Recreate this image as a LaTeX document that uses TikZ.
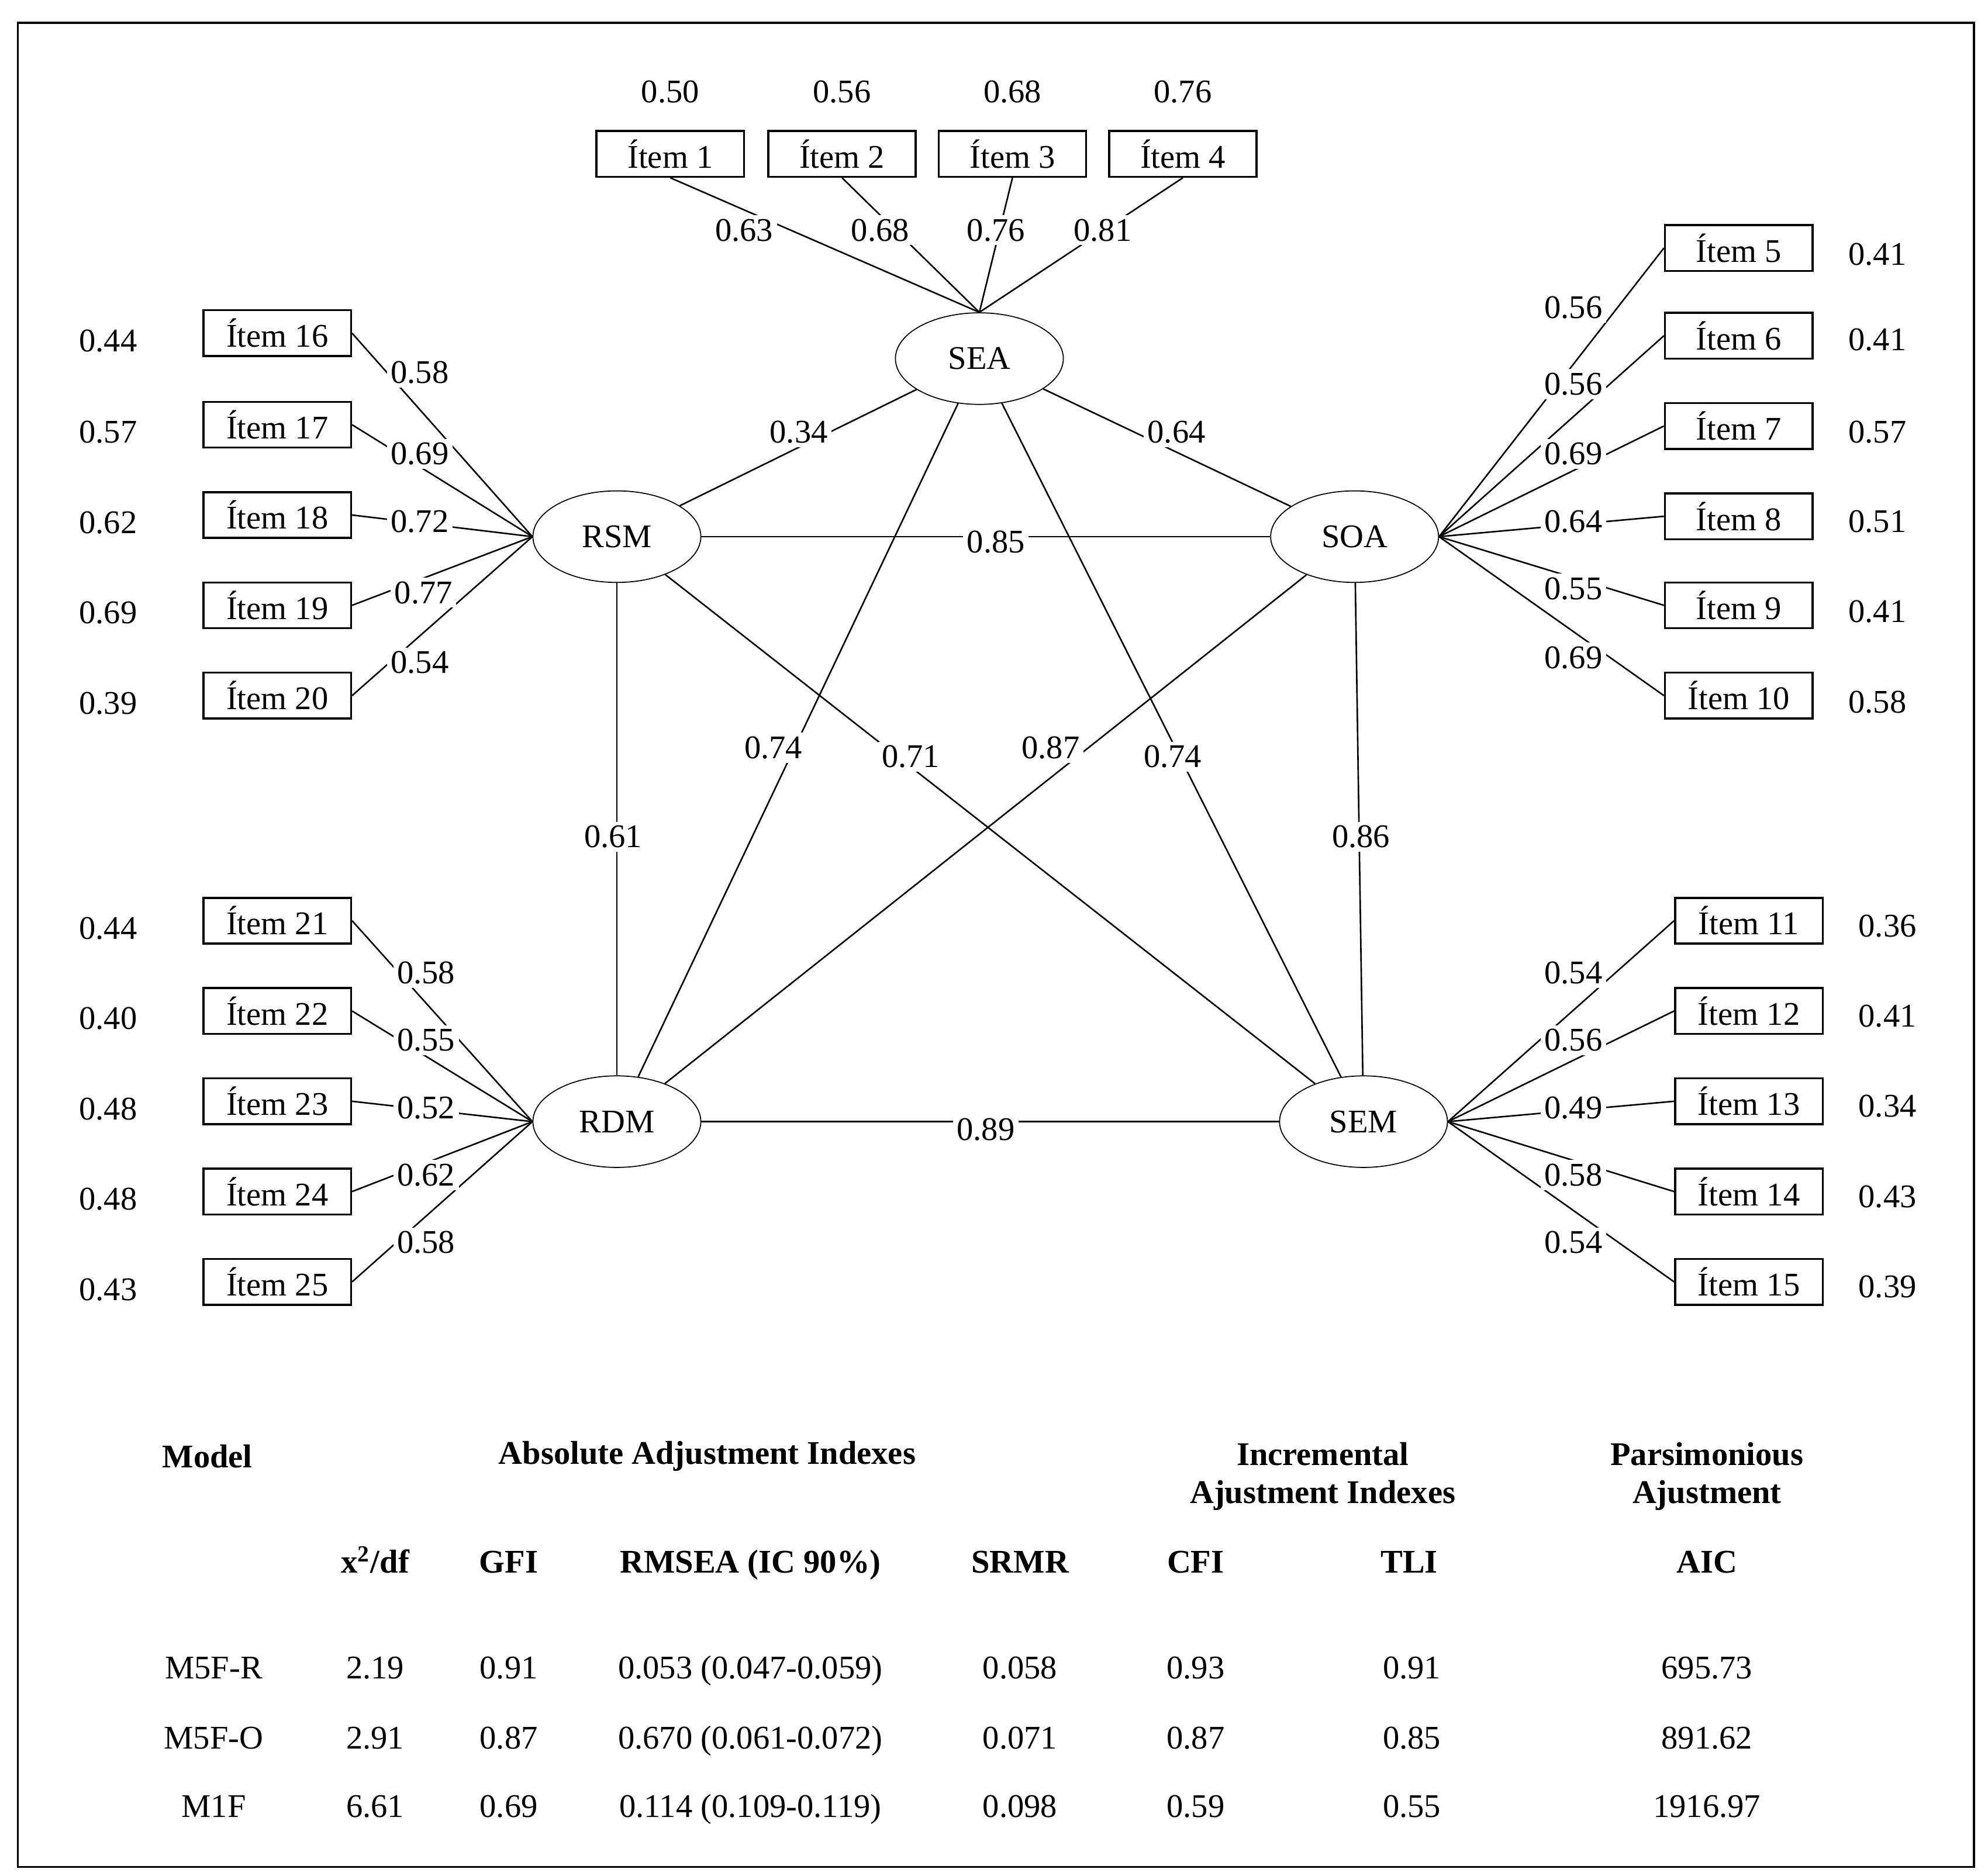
\documentclass[tikz,border=0pt]{standalone}
\usepackage{fontspec}
\setmainfont{Liberation Serif}
\usetikzlibrary{shapes.geometric}
\begin{document}
\begin{tikzpicture}[x=0.5pt,y=-0.5pt,
  every node/.style={font=\fontsize{13}{15}\selectfont},
  it/.style={draw,thick,minimum width=58pt,minimum height=18pt,inner sep=0pt},
  lat/.style={draw,ellipse,minimum width=66pt,minimum height=36pt,inner sep=0pt},
  lab/.style={fill=white,inner sep=1.5pt},
  td/.style={text height=0.75em,text depth=0.25em},
  hd/.style={font=\fontsize{13}{15}\selectfont\bfseries,align=center},
  ln/.style={line width=0.6pt}]
\useasboundingbox (0,0) rectangle (1563,1475);
\draw[line width=0.8pt] (14,18) rectangle (1552,1468);
% latent
\node[lat] (SEA) at (770,282) {SEA};
\node[lat] (RSM) at (485,422) {RSM};
\node[lat] (SOA) at (1065,422) {SOA};
\node[lat] (RDM) at (485,882) {RDM};
\node[lat] (SEM) at (1072,882) {SEM};
% top items
\foreach \n/\x/\e in {1/527/0.50,2/662/0.56,3/796/0.68,4/930/0.76}{
  \node[it] (i\n) at (\x,121) {Ítem \n};
  \node (e\n) at (\x,72) {\e};
  \draw[ln] (i\n.south) -- (SEA.north);}
% left items
\foreach \n/\y/\e in {16/262/0.44,17/334/0.57,18/405/0.62,19/476/0.69,20/547/0.39}{
  \node[it] (i\n) at (218,\y) {Ítem \n};
  \node (e\n) at (85,\y+6) {\e};
  \draw[ln] (i\n.east) -- (RSM.west);}
\foreach \n/\y/\e in {21/724/0.44,22/795/0.40,23/866/0.48,24/937/0.48,25/1008/0.43}{
  \node[it] (i\n) at (218,\y) {Ítem \n};
  \node (e\n) at (85,\y+6) {\e};
  \draw[ln] (i\n.east) -- (RDM.west);}
% right items
\foreach \n/\y/\e/\ey in {5/195/0.41/200,6/264/0.41/267,7/335/0.57/340,8/406/0.51/410,9/476/0.41/481,10/547/0.58/552}{
  \node[it] (i\n) at (1367,\y) {Ítem \n};
  \node (e\n) at (1476,\ey) {\e};
  \draw[ln] (i\n.west) -- (SOA.east);}
\foreach \n/\y/\e in {11/724/0.36,12/795/0.41,13/866/0.34,14/937/0.43,15/1008/0.39}{
  \node[it] (i\n) at (1375,\y) {Ítem \n};
  \node (e\n) at (1484,\y+4) {\e};
  \draw[ln] (i\n.west) -- (SEM.east);}
% structural
\draw[ln] (SEA) -- (RSM); \draw[ln] (SEA) -- (SOA);
\draw[ln] (RSM) -- (SOA); \draw[ln] (RSM) -- (RDM);
\draw[ln] (SEA) -- (RDM); \draw[ln] (RSM) -- (SEM);
\draw[ln] (SOA) -- (RDM); \draw[ln] (SEA) -- (SEM);
\draw[ln] (SOA) -- (SEM); \draw[ln] (RDM) -- (SEM);
% loading labels
\foreach \t/\x/\y in {0.63/585/181,0.68/692/181,0.76/783/181,0.81/867/181,
 0.58/330/293,0.69/330/357,0.72/330/410,0.77/333/466,0.54/330/521,
 0.58/335/765,0.55/335/818,0.52/335/871,0.62/335/924,0.58/335/977,
 0.56/1237/242,0.56/1237/302,0.69/1237/357,0.64/1237/410,0.55/1237/463,0.69/1237/517,
 0.54/1237/765,0.56/1237/818,0.49/1237/871,0.58/1237/924,0.54/1237/977,
 0.34/628/340,0.64/925/340,0.85/783/426,0.61/482/658,0.74/608/588,0.71/716/595,
 0.87/826/588,0.74/922/595,0.86/1070/658,0.89/775/888}
  \node[lab] at (\x,\y) {\t};
% table
\node[hd] (h1) at (163,1145) {Model};
\node[hd] (h2) at (556,1145) {Absolute Adjustment Indexes};
\node[hd] (h3) at (1040,1161) {Incremental\\Ajustment Indexes};
\node[hd] (h4) at (1342,1161) {Parsimonious\\Ajustment};
\foreach \t/\x in {{x\textsuperscript{2}/df}/295,GFI/400,RMSEA (IC 90\%)/590,SRMR/802,CFI/940,TLI/1108,AIC/1342}
  \node[hd,td] at (\x,1232) {\t};
\foreach \y/\a/\b/\c/\d/\e/\f/\g/\h in {1315/M5F-R/2.19/0.91/0.053 (0.047-0.059)/0.058/0.93/0.91/695.73,
  1370/M5F-O/2.91/0.87/0.670 (0.061-0.072)/0.071/0.87/0.85/891.62,
  1424/M1F/6.61/0.69/0.114 (0.109-0.119)/0.098/0.59/0.55/1916.97}{
  \node[td] at (168,\y) {\a}; \node[td] at (295,\y) {\b}; \node[td] at (400,\y) {\c};
  \node[td] at (590,\y) {\d}; \node[td] at (802,\y) {\e}; \node[td] at (940,\y) {\f};
  \node[td] at (1110,\y) {\g}; \node[td] at (1342,\y) {\h};}
\end{tikzpicture}
\end{document}
